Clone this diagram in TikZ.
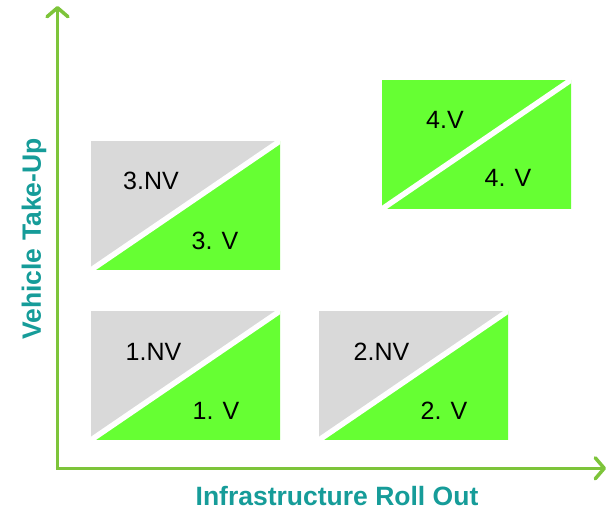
\documentclass[tikz,border=0pt]{standalone}
\usepackage{fontspec}
\setmainfont{Liberation Sans}
\usetikzlibrary{arrows.meta}
\definecolor{axisgreen}{HTML}{7DC43A}
\definecolor{cellgray}{HTML}{D9D9D9}
\definecolor{cellgreen}{HTML}{66FF33}
\definecolor{labelteal}{HTML}{169C99}
\tikzset{
  axisline/.style={draw=axisgreen, line width=3.5pt, -{Straight Barb[length=9pt,width=21pt,line width=3.5pt,round]}},
  celltext/.style={font=\fontsize{25}{25}\selectfont, text=black, inner sep=0pt},
  axislabel/.style={font=\fontsize{26.5}{26.5}\selectfont\bfseries, text=labelteal, inner sep=0pt},
}
\newcommand{\quadcell}[3]{%
  % #1 x, #2 y (top-left), #3 upper fill
  \fill[#3] (#1,#2) rectangle ++(189,129);
  \fill[cellgreen] (#1,#2+129) -- ++(189,0) -- ++(0,-129) -- cycle;
  \begin{scope}
    \clip (#1,#2) rectangle ++(189,129);
    \draw[white, line width=5.5pt] (#1-10,#2+129+6.83) -- (#1+199,#2-6.83);
  \end{scope}
}
\begin{document}
\begin{tikzpicture}[x=1pt,y=-1pt]
\useasboundingbox (0,0) rectangle (608,510);
\coordinate (ytop) at (57.5,6);
\coordinate (xend) at (606,468.3);
\draw[axisline] (57.5,470) -- (ytop);
\draw[axisline] (55.8,468.3) -- (xend);
\quadcell{91}{141}{cellgray}
\quadcell{382}{80}{cellgreen}
\quadcell{91}{311}{cellgray}
\quadcell{319}{311}{cellgray}
\node[celltext] (c3a) at (151,181) {3.NV};
\node[celltext] (c3b) at (215,241) {3. V};
\node[celltext] (c4a) at (445,120) {4.V};
\node[celltext] (c4b) at (508,178) {4. V};
\node[celltext] (c1a) at (153.5,351.5) {1.NV};
\node[celltext] (c1b) at (216,411) {1. V};
\node[celltext] (c2a) at (381.5,351.5) {2.NV};
\node[celltext] (c2b) at (444,411) {2. V};
\node[axislabel, rotate=90] (ylab) at (34,239) {Vehicle Take-Up};
\node[axislabel] (xlab) at (337,496) {Infrastructure Roll Out};
\end{tikzpicture}
\end{document}
